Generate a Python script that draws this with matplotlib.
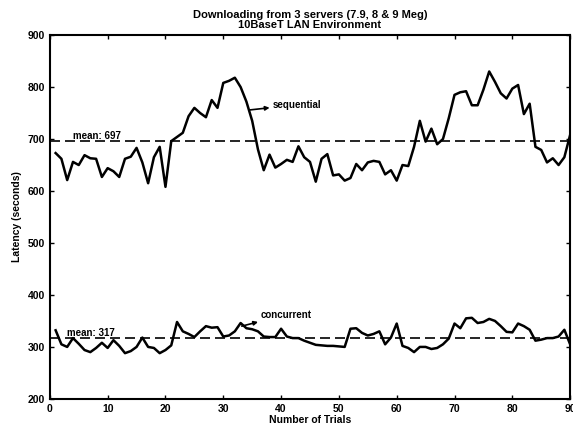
import numpy as np
import matplotlib.pyplot as plt

trials = np.arange(1, 91)

sequential = [673, 662, 621, 656, 650, 669, 663, 662, 627, 644,
              638, 627, 662, 666, 683, 655, 615, 665, 685, 608,
              696, 704, 712, 744, 760, 750, 742, 775, 760, 808,
              812, 818, 800, 772, 735, 680, 640, 670, 645, 652,
              660, 656, 686, 665, 656, 618, 662, 671, 630, 632,
              620, 625, 652, 640, 655, 658, 656, 632, 640, 620,
              650, 648, 685, 735, 695, 720, 690, 700, 740, 785,
              790, 792, 765, 765, 795, 830, 810, 788, 778, 797,
              804, 748, 768, 685, 679, 655, 663, 650, 665, 708]

concurrent = [332, 305, 300, 317, 306, 294, 290, 298, 308, 298,
              313, 302, 288, 292, 300, 318, 300, 298, 288, 294,
              303, 348, 330, 325, 319, 330, 340, 337, 338, 320,
              322, 330, 346, 336, 334, 330, 320, 319, 319, 335,
              320, 317, 317, 312, 308, 304, 303, 302, 302, 301,
              300, 335, 336, 327, 322, 325, 330, 305, 318, 345,
              302, 298, 290, 300, 300, 296, 298, 305, 316, 345,
              336, 355, 356, 346, 348, 354, 350, 340, 329, 328,
              345, 340, 333, 312, 314, 317, 317, 320, 333, 305]

mean_seq = 697
mean_con = 317

plt.rcParams['font.family'] = 'Liberation Sans'
plt.rcParams['font.weight'] = 'bold'

fig = plt.figure(figsize=(5.73, 4.28), dpi=100)
ax = fig.add_axes([0.087, 0.068, 0.908, 0.850])

ax.plot(trials, sequential, color='black', lw=1.8)
ax.plot(trials, concurrent, color='black', lw=1.8)
ax.axhline(mean_seq, color='black', lw=1.2, ls=(0, (6, 3)))
ax.axhline(mean_con, color='black', lw=1.2, ls=(0, (6, 3)))

ax.text(4, mean_seq + 4, 'mean: %d' % mean_seq, fontsize=7)
ax.text(3, mean_con + 4, 'mean: %d' % mean_con, fontsize=7)

ax.annotate('sequential', xy=(34.6, 756), xytext=(38.5, 766),
            fontsize=7, va='center',
            arrowprops=dict(arrowstyle='<|-', color='black', lw=1.2,
                            mutation_scale=6, shrinkA=0, shrinkB=0))
ax.annotate('concurrent', xy=(33.2, 340), xytext=(36.5, 362),
            fontsize=7, va='center',
            arrowprops=dict(arrowstyle='<|-', color='black', lw=1.2,
                            mutation_scale=6, shrinkA=0, shrinkB=0))

ax.set_xlim(0, 90)
ax.set_ylim(200, 900)
ax.set_xticks(np.arange(0, 91, 10))
ax.set_yticks(np.arange(200, 901, 100))
ax.tick_params(direction='in', length=3, width=1, labelsize=7.5,
               top=True, right=True)
for s in ax.spines.values():
    s.set_linewidth(1.5)

ax.set_xlabel('Number of Trials', fontsize=7.5, fontweight='bold', labelpad=1)
ax.set_ylabel('Latency (seconds)', fontsize=7.5, fontweight='bold', labelpad=4)
ax.set_title('Downloading from 3 servers (7.9, 8 & 9 Meg)\n10BaseT LAN Environment',
             fontsize=8, fontweight='bold', pad=5, linespacing=1.0)

fig.savefig('out.png', dpi=100)
